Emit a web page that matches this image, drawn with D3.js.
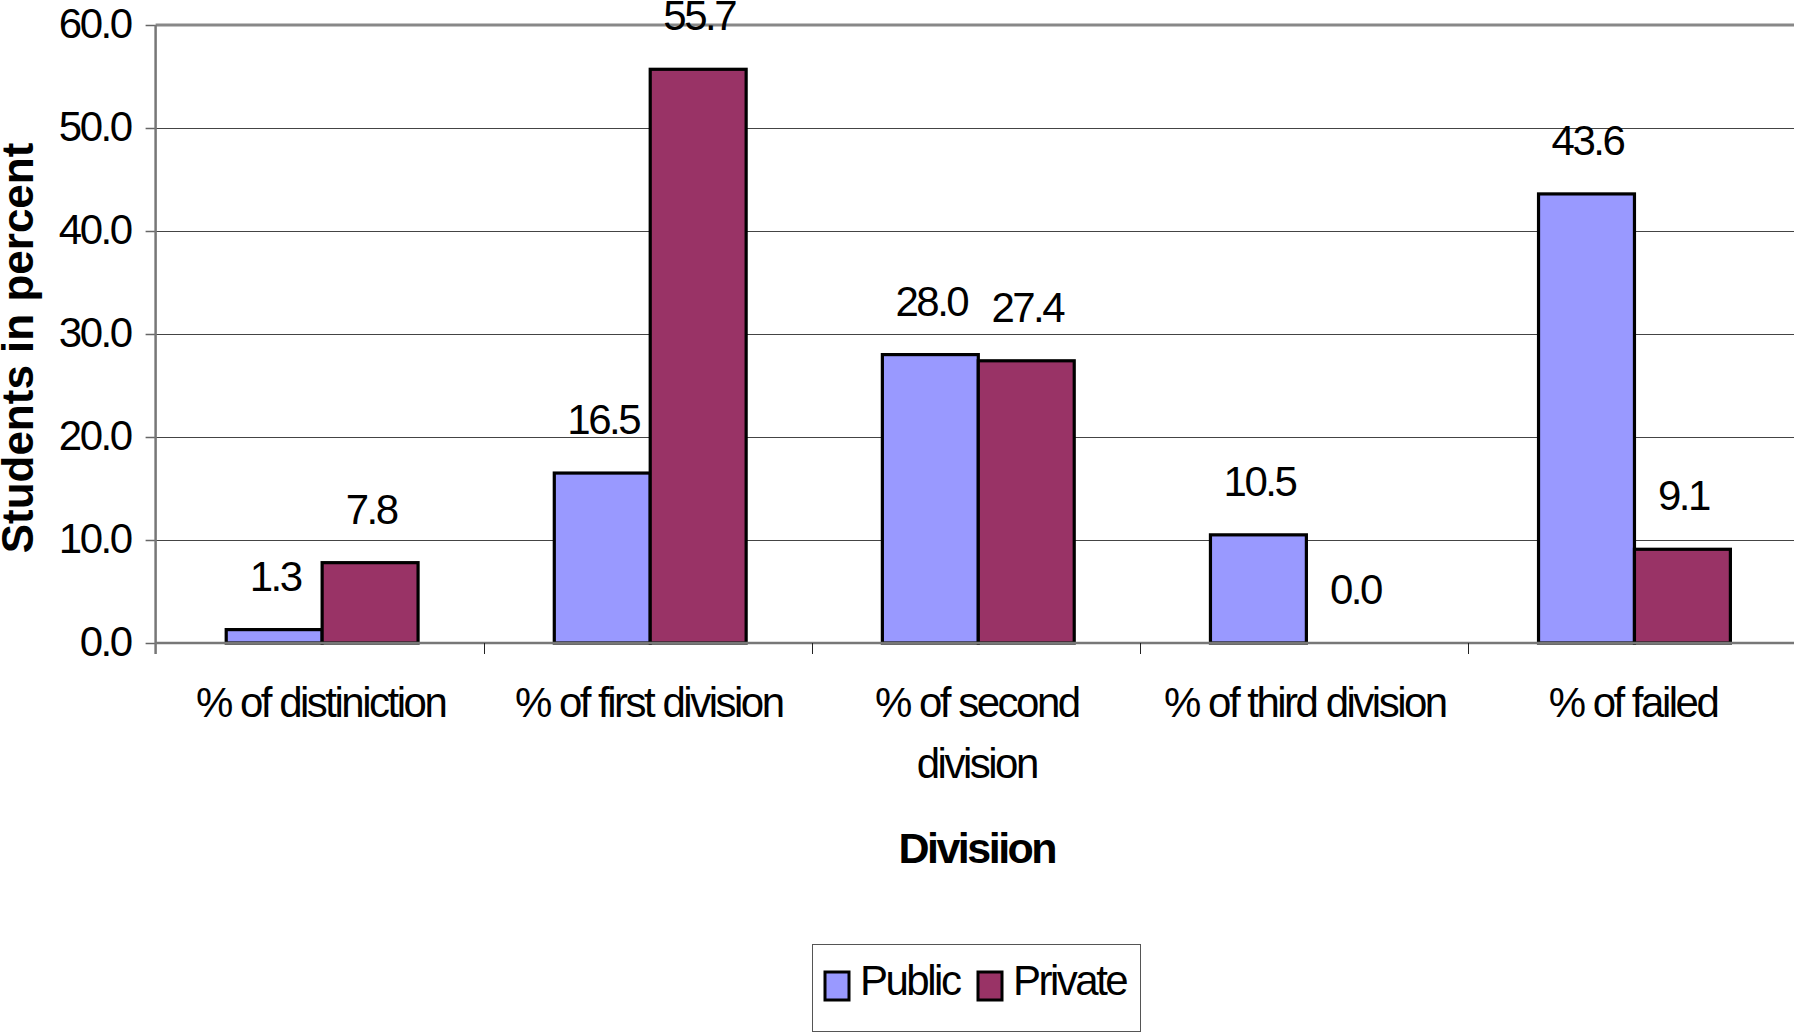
<!DOCTYPE html>
<html><head><meta charset="utf-8">
<script src="https://cdn.jsdelivr.net/npm/d3@7"></script>
<style>
html,body{margin:0;padding:0;background:#fff;}
svg text{font-family:"Liberation Sans",Arial,sans-serif;fill:#000;}
</style>
</head><body>
<svg id="chart" width="1794" height="1033"></svg>
<script>
const categories = [["% of distiniction"], ["% of first division"], ["% of second", "division"], ["% of third division"], ["% of failed"]];
const seriesNames = ["Public", "Private"];
const publicValues = [1.3, 16.5, 28.0, 10.5, 43.6];
const privateValues = [7.8, 55.7, 27.4, 0.0, 9.1];
const yTicks = [0, 10, 20, 30, 40, 50, 60];
const colors = ["#9999FF", "#993366"];

(function(){
const svg = d3.select("#chart");
const pLeft = 155.6, pRight = 1796, pTop = 25, pBottom = 643;
const catKeys = categories.map((c, i) => i);

const x0 = d3.scaleBand().domain(catKeys).range([pLeft, pRight]).paddingInner(0).paddingOuter(0);
const x1 = d3.scaleBand().domain(seriesNames).range([2.5, x0.bandwidth() + 2.5]).paddingInner(0).paddingOuter(0.71);
const y = d3.scaleLinear().domain([0, 60]).range([pBottom, pTop]);

const fs = 42, ls = "-2.5px";

// gridlines
svg.append("g").selectAll("line").data(yTicks.filter(t => t > 0 && t < 60)).join("line")
  .attr("x1", pLeft).attr("x2", 1794)
  .attr("y1", d => Math.round(y(d)) + 0.5).attr("y2", d => Math.round(y(d)) + 0.5)
  .attr("stroke", "#444").attr("stroke-width", 1);

// top border
svg.append("line").attr("x1", pLeft).attr("x2", 1794).attr("y1", y(60)).attr("y2", y(60))
  .attr("stroke", "#888").attr("stroke-width", 3);

// y axis
const yAxis = d3.axisLeft(y).tickValues(yTicks).tickSize(10).tickPadding(0).tickFormat(d3.format(".1f"));
const gy = svg.append("g").attr("transform", `translate(${pLeft},0)`).call(yAxis);
gy.select(".domain").remove();
gy.selectAll(".tick line").attr("stroke", "#666").attr("stroke-width", 1.5);
gy.selectAll(".tick text").attr("x", -25).attr("dy", "0.30em")
  .style("font-size", fs + "px").style("letter-spacing", ls).attr("fill", "#000")
  .style("font-family", "'Liberation Sans', Arial, sans-serif");
svg.append("line").attr("x1", pLeft).attr("x2", pLeft).attr("y1", y(60)).attr("y2", pBottom + 11)
  .attr("stroke", "#777").attr("stroke-width", 2.5);

// bars
const groups = svg.append("g").selectAll("g").data(catKeys).join("g")
  .attr("transform", d => `translate(${x0(d)},0)`);
groups.selectAll("rect").data(i => [
    {s: seriesNames[0], v: publicValues[i], c: colors[0]},
    {s: seriesNames[1], v: privateValues[i], c: colors[1]}
  ].filter(d => d.v > 0)).join("rect")
  .attr("x", d => x1(d.s)).attr("width", x1.bandwidth())
  .attr("y", d => y(d.v)).attr("height", d => y(0) - y(d.v))
  .attr("fill", d => d.c).attr("stroke", "#000").attr("stroke-width", 3.2);

// x axis line and ticks
svg.append("line").attr("x1", pLeft).attr("x2", 1794).attr("y1", pBottom).attr("y2", pBottom)
  .attr("stroke", "#777").attr("stroke-width", 2.5);
const xTickPos = catKeys.map(i => x0(i)).concat([pRight]);
svg.append("g").selectAll("line").data(xTickPos.slice(1)).join("line")
  .attr("x1", d => Math.round(d) + 0.5).attr("x2", d => Math.round(d) + 0.5)
  .attr("y1", pBottom).attr("y2", pBottom + 11).attr("stroke", "#222").attr("stroke-width", 1);

// value labels
groups.selectAll("text.val").data(i => [
    {s: seriesNames[0], v: publicValues[i]},
    {s: seriesNames[1], v: privateValues[i]}
  ]).join("text").attr("class", "val")
  .attr("x", d => x1(d.s) + x1.bandwidth() / 2 + 1)
  .attr("y", d => y(d.v) - 39)
  .attr("text-anchor", "middle")
  .style("font-size", fs + "px").style("letter-spacing", ls)
  .text(d => d3.format(".1f")(d.v));

// category labels
svg.append("g").selectAll("text").data(catKeys).join("text")
  .attr("x", d => x0(d) + x0.bandwidth() / 2 + 1)
  .attr("y", 717)
  .attr("text-anchor", "middle")
  .style("font-size", fs + "px").style("letter-spacing", ls)
  .each(function(d) {
    const t = d3.select(this);
    categories[d].forEach((line, k) => {
      t.append("tspan").attr("x", x0(d) + x0.bandwidth() / 2 + 1).attr("dy", k === 0 ? 0 : 61).text(line);
    });
  });

// axis titles
svg.append("text").attr("x", (pLeft + pRight) / 2 + 1).attr("y", 863)
  .attr("text-anchor", "middle").style("font-size", "43px").style("font-weight", "bold")
  .style("letter-spacing", "-2.5px").text("Divisiion");
svg.append("text").attr("transform", "translate(33,348) rotate(-90)")
  .attr("text-anchor", "middle").style("font-size", "44px").style("font-weight", "bold")
  .text("Students in percent");

// legend
const lg = svg.append("g");
lg.append("rect").attr("x", 812.5).attr("y", 944.5).attr("width", 328).attr("height", 87)
  .attr("fill", "#fff").attr("stroke", "#555").attr("stroke-width", 1);
const legendX = [825, 978];
seriesNames.forEach((s, i) => {
  lg.append("rect").attr("x", legendX[i]).attr("y", 972).attr("width", 24).attr("height", 28)
    .attr("fill", colors[i]).attr("stroke", "#000").attr("stroke-width", 3);
  lg.append("text").attr("x", legendX[i] + 35).attr("y", 995)
    .style("font-size", fs + "px").style("letter-spacing", ls).text(s);
});
})();
</script>
</body></html>
